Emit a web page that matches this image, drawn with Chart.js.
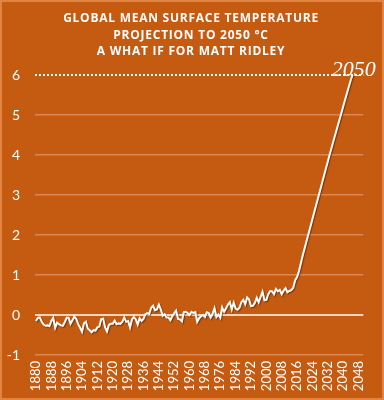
<!DOCTYPE html>
<html>
<head>
<meta charset="utf-8">
<script src="https://cdn.jsdelivr.net/npm/chart.js@4/dist/chart.umd.min.js"></script>
<style>
  html, body { margin: 0; padding: 0; background: #C55A11; }
  #wrap { width: 384px; height: 400px; position: relative; }
</style>
</head>
<body>
<div id="wrap"><canvas id="chart"></canvas></div>
<script>
const titleLines = ['GLOBAL MEAN SURFACE TEMPERATURE', 'PROJECTION TO 2050 °C', 'A WHAT IF FOR MATT RIDLEY'];
const firstYear = 1880;
const lastYear = 2050;
const labelStep = 8;
const yTicks = [-1, 0, 1, 2, 3, 4, 5, 6];
const endNote = '2050';

// 1880 - 2014
const observed = [
  -0.15, -0.07, -0.06, -0.17, -0.24, -0.27, -0.26, -0.28, -0.15, -0.07,
  -0.32, -0.19, -0.23, -0.26, -0.27, -0.18, -0.07, -0.07, -0.22, -0.13,
  -0.04, -0.10, -0.23, -0.32, -0.42, -0.21, -0.17, -0.34, -0.38, -0.43,
  -0.38, -0.39, -0.31, -0.29, -0.10, -0.09, -0.31, -0.41, -0.25, -0.22,
  -0.22, -0.14, -0.23, -0.21, -0.22, -0.17, -0.06, -0.17, -0.15, -0.31,
  -0.11, -0.05, -0.11, -0.24, -0.08, -0.15, -0.10, 0.02, 0.05, 0.03,
  0.18, 0.23, 0.12, 0.14, 0.26, 0.14, -0.02, 0.02, -0.06, -0.06,
  -0.13, -0.03, 0.04, 0.11, -0.10, -0.11, -0.16, 0.07, 0.08, 0.05,
  0.00, 0.08, 0.05, 0.07, -0.17, -0.08, -0.03, 0.00, -0.05, 0.07,
  0.05, -0.06, 0.03, 0.17, -0.05, 0.01, -0.07, 0.19, 0.08, 0.17,
  0.26, 0.32, 0.14, 0.31, 0.16, 0.13, 0.18, 0.32, 0.38, 0.27,
  0.44, 0.39, 0.22, 0.23, 0.30, 0.43, 0.32, 0.45, 0.58, 0.37,
  0.38, 0.52, 0.60, 0.59, 0.52, 0.65, 0.59, 0.63, 0.52, 0.61,
  0.67, 0.57, 0.60, 0.62, 0.68
];

// 2015 - 2045, the "what if"
const projection = [
  0.87, 0.95, 1.10, 1.30, 1.50, 1.68, 1.86, 2.04, 2.22, 2.40,
  2.58, 2.76, 2.94, 3.12, 3.30, 3.48, 3.66, 3.84, 4.02, 4.19,
  4.36, 4.53, 4.70, 4.87, 5.04, 5.21, 5.38, 5.55, 5.72, 5.88,
  6.02
];

const years = [];
for (let y = firstYear; y <= lastYear; y++) years.push(String(y));
const series = observed.concat(projection);
while (series.length < years.length) series.push(null);

const bgPlugin = {
  id: 'bg',
  beforeDraw(chart) {
    const ctx = chart.ctx;
    ctx.save();
    ctx.fillStyle = '#C55A11';
    ctx.fillRect(0, 0, chart.width, chart.height);
    ctx.strokeStyle = '#E2843F';
    ctx.lineWidth = 2;
    ctx.strokeRect(1, 1, chart.width - 2, chart.height - 2);
    ctx.restore();
  },
  beforeDatasetsDraw(chart) {
    // dotted line at the top tick
    const ctx = chart.ctx;
    const y = chart.scales.y.getPixelForValue(6);
    const a = chart.chartArea;
    ctx.save();
    ctx.strokeStyle = '#FFFFFF';
    ctx.lineWidth = 2;
    ctx.setLineDash([2, 2]);
    ctx.beginPath();
    ctx.moveTo(a.left, y);
    ctx.lineTo(a.right, y);
    ctx.stroke();
    ctx.restore();
  },
  beforeDatasetDraw(chart) {
    const ctx = chart.ctx;
    ctx.save();
    ctx.shadowColor = 'rgba(70,30,5,0.6)';
    ctx.shadowOffsetX = 1;
    ctx.shadowOffsetY = 1;
    ctx.shadowBlur = 1;
  },
  afterDatasetDraw(chart) {
    chart.ctx.restore();
  },
  afterDraw(chart) {
    const ctx = chart.ctx;
    ctx.save();
    ctx.fillStyle = '#FFFFFF';
    ctx.textAlign = 'center';
    ctx.textBaseline = 'alphabetic';
    ctx.font = 'bold 12px "Open Sans"';
    ctx.letterSpacing = '0.75px';
    titleLines.forEach((t, i) => ctx.fillText(t, 191, 22 + i * 16.6));
    ctx.letterSpacing = '0px';
    ctx.font = 'italic 22px "Liberation Serif"';
    const xs = chart.scales.x;
    const x = xs.getPixelForValue(years.indexOf('2045'));
    ctx.fillText(endNote, x + 1, chart.scales.y.getPixelForValue(6) + 1);
    ctx.restore();
  }
};

new Chart(document.getElementById('chart'), {
  type: 'line',
  data: {
    labels: years,
    datasets: [{
      data: series,
      borderColor: '#FFFFFF',
      borderWidth: 2,
      pointRadius: 0,
      tension: 0,
      fill: false
    }]
  },
  options: {
    responsive: true,
    maintainAspectRatio: false,
    animation: false,
    layout: { padding: { top: 75, right: 12, left: 0, bottom: 0 } },
    plugins: { legend: { display: false }, tooltip: { enabled: false } },
    scales: {
      x: {
        offset: true,
        grid: { display: false, drawTicks: false },
        border: { display: false },
        afterFit(s) { s.height = 45; },
        ticks: {
          autoSkip: false,
          minRotation: 90,
          maxRotation: 90,
          padding: 6,
          color: '#FFFFFF',
          font: { family: 'Lato', size: 13 },
          callback(v, i) {
            return (i % labelStep === 0) ? years[i] : '';
          }
        }
      },
      y: {
        min: yTicks[0],
        max: yTicks[yTicks.length - 1],
        afterFit(s) { s.width = 35; },
        afterBuildTicks(s) { s.ticks = yTicks.map(v => ({ value: v })); },
        border: { display: false },
        grid: {
          drawTicks: false,
          color: c => c.tick.value === 0 ? '#F4D6C3' : (c.tick.value === 6 ? 'rgba(0,0,0,0)' : '#D98854'),
          lineWidth: c => c.tick.value === 0 ? 2 : 1.5
        },
        ticks: {
          padding: 15,
          color: '#FFFFFF',
          font: { family: 'Lato', size: 14 }
        }
      }
    }
  },
  plugins: [bgPlugin]
});
</script>
</body>
</html>
